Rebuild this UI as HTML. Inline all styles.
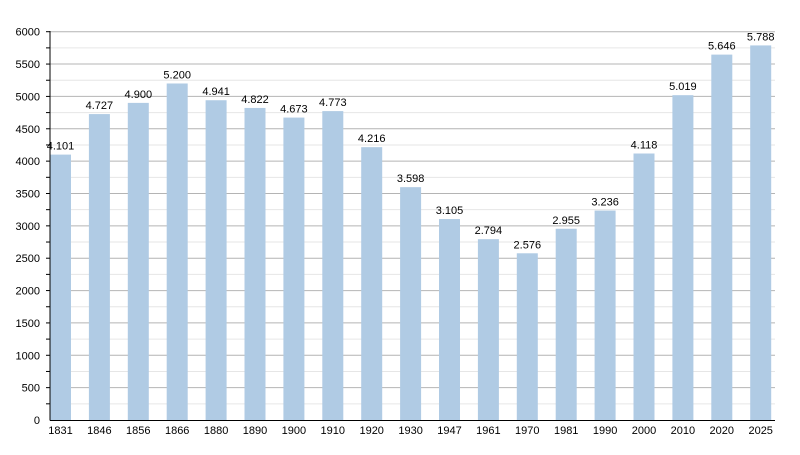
<!DOCTYPE html><html><head><style>body{margin:0;background:#fff}</style></head><body>
<svg width="800" height="450" xmlns="http://www.w3.org/2000/svg" font-family="Liberation Sans, sans-serif" font-size="11">
<script>/* none */</script>
<g id="g"></g>
</svg>
<script>
var s=document.querySelector('svg'),ns='http://www.w3.org/2000/svg';
function el(t,a,txt){var e=document.createElementNS(ns,t);for(var k in a)e.setAttribute(k,a[k]);if(txt!=null)e.textContent=txt;s.appendChild(e);return e;}
var y0=420,sc=388.3/6000,X0=50;
for(var v=250;v<=6000;v+=250){var y=y0-v*sc;el('line',{x1:X0,x2:775,y1:y,y2:y,stroke:v%500?'#e6e6e6':'#b4b4b4','stroke-width':1});
el('line',{x1:X0-4,x2:X0,y1:y,y2:y,stroke:'#000'});}
for(var v=0;v<=6000;v+=500){var y=y0-v*sc;el('text',{x:40,y:y+4,'text-anchor':'end'},v);}
var d=[[1831,4101],[1846,4727],[1856,4900],[1866,5200],[1880,4941],[1890,4822],[1900,4673],[1910,4773],[1920,4216],[1930,3598],[1947,3105],[1961,2794],[1970,2576],[1981,2955],[1990,3236],[2000,4118],[2010,5019],[2020,5646],[2025,5788]];
d.forEach(function(p,i){var x=X0+i*38.9,h=p[1]*sc;el('rect',{x:x,y:y0-h,width:21,height:h,fill:'#b0cbe4'});
var t=String(p[1]);t=t[0]+'.'+t.slice(1);el('text',{x:x+10.5,y:y0-h-5,'text-anchor':'middle'},t);
el('text',{x:x+10.5,y:434,'text-anchor':'middle'},p[0]);});
el('line',{x1:X0,x2:X0,y1:31,y2:420.5,stroke:'#000'});
el('line',{x1:X0,x2:775,y1:420.5,y2:420.5,stroke:'#000'});
</script>
</body></html>
